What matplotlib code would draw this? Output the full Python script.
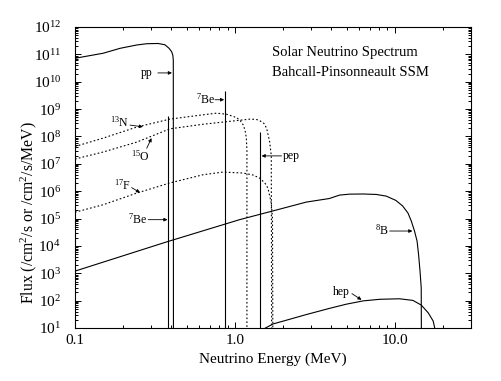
import math
import matplotlib
matplotlib.use('Agg')
import matplotlib.pyplot as plt
from matplotlib.ticker import LogLocator, FixedLocator, FixedFormatter, NullFormatter, FuncFormatter

plt.rcParams['font.family'] = ['Liberation Serif', 'DejaVu Serif']
plt.rcParams['mathtext.fontset'] = 'custom'
plt.rcParams['mathtext.rm'] = 'Liberation Serif'
plt.rcParams['mathtext.it'] = 'Liberation Serif:italic'

# continuum spectra (energy in MeV, flux per cm^2/s/MeV)
pp_e = [0.1, 0.150, 0.191, 0.243, 0.281, 0.331, 0.365, 0.388, 0.402, 0.409, 0.412, 0.413]
pp_f = [7.2e10, 1.1e11, 1.66e11, 2.2e11, 2.45e11, 2.5e11, 2.25e11, 1.66e11, 1.26e11, 9.5e10, 6.3e10, 1.0]

n13_e = [0.1, 0.15, 0.243, 0.392, 0.634, 0.768, 0.888, 1.025, 1.08, 1.13, 1.16, 1.18, 1.19, 1.19]
n13_f = [4.3e7, 8.7e7, 2.2e8, 4.3e8, 6.2e8, 7.1e8, 6.5e8, 4.9e8, 3.8e8, 2.6e8, 1.6e8, 8.7e7, 3e7, 1.0]

o15_e = [0.1, 0.15, 0.243, 0.392, 0.634, 1.025, 1.24, 1.36, 1.43, 1.52, 1.58, 1.65, 1.69, 1.70]
o15_f = [1.5e7, 2.7e7, 6.2e7, 1.9e8, 2.8e8, 3.8e8, 4.3e8, 4.2e8, 3.8e8, 3.0e8, 2.0e8, 6.5e7, 2e7, 1.0]

f17_e = [0.1, 0.15, 0.243, 0.392, 0.634, 0.844, 1.13, 1.30, 1.43, 1.54, 1.61, 1.69, 1.72, 1.73]
f17_f = [1.7e5, 3.2e5, 8.5e5, 2.0e6, 4.0e6, 5.0e6, 4.6e6, 3.9e6, 3.0e6, 2.0e6, 1.3e6, 3.7e5, 1e5, 1.0]

b8_e = [0.1, 0.374, 1.07, 1.73, 2.8, 3.9, 4.52, 5.23, 6.35, 7.67, 8.86, 10.17, 11.2, 12.1,
        12.7, 13.3, 13.8, 14.1, 14.4, 14.65, 14.7]
b8_f = [1.2e3, 1.4e4, 9.1e4, 1.9e5, 4.0e5, 5.4e5, 7.2e5, 7.8e5, 7.9e5, 7.6e5, 6.6e5, 4.6e5, 2.9e5, 1.6e5,
        8.1e4, 3.5e4, 1.5e4, 4.9e3, 1.2e3, 3.0e2, 1.0]

hep_e = [1.45, 1.73, 2.8, 3.9, 4.97, 6.35, 8.07, 10.7, 13.0, 14.65, 16.2, 17.4, 17.8, 18.0]
hep_f = [8, 14, 31, 52, 74, 98, 112, 117, 102, 69, 36, 18, 10, 6]

# line sources (per cm^2/s)
be7_e = [0.384, 0.862]
be7_f = [5.4e8, 4.6e9]
pep_e = [1.442]
pep_f = [1.5e8]

fig = plt.figure(figsize=(5.02, 3.81), dpi=100)
ax = fig.add_axes([0.1494, 0.1391, 0.7888, 0.79])

lw = 0.8
dots = (0, (1.5, 2.0))
ax.plot(pp_e, pp_f, color='k', lw=lw)
ax.plot(b8_e, b8_f, color='k', lw=lw)
ax.plot(hep_e, hep_f, color='k', lw=lw)
ax.plot(n13_e, n13_f, color='k', lw=lw, ls=dots)
ax.plot(o15_e, o15_f, color='k', lw=lw, ls=dots)
ax.plot(f17_e, f17_f, color='k', lw=lw, ls=dots)
ax.vlines(be7_e, 1.0, be7_f, color='k', lw=lw)
ax.vlines(pep_e, 1.0, pep_f, color='k', lw=lw)

ax.set_xscale('log')
ax.set_yscale('log')
ax.set_xlim(0.1, 30)
ax.set_ylim(10, 1e12)

ax.xaxis.set_major_locator(FixedLocator([0.1, 1.0, 10.0]))
ax.xaxis.set_major_formatter(FixedFormatter(['0.1', '1.0', '10.0']))
ax.xaxis.set_minor_locator(LogLocator(base=10, subs=range(2, 10)))
ax.xaxis.set_minor_formatter(NullFormatter())
ax.yaxis.set_major_locator(LogLocator(base=10, numticks=20))
ax.yaxis.set_major_formatter(FuncFormatter(lambda v, p: r'$10^{%d}$' % round(math.log10(v))))
ax.yaxis.set_minor_locator(LogLocator(base=10, subs=range(2, 10), numticks=20))
ax.yaxis.set_minor_formatter(NullFormatter())

ax.tick_params(which='both', direction='in', top=True, right=True, width=0.7)
ax.tick_params(which='major', length=4.5)
ax.tick_params(which='minor', length=2.5)
ax.tick_params(axis='x', labelsize=11, pad=4)
ax.tick_params(axis='y', labelsize=11, pad=10)
for s in ax.spines.values():
    s.set_linewidth(0.8)

ax.set_xlabel('Neutrino Energy (MeV)', fontsize=11)
ax.set_ylabel(r'Flux (/cm$^2$/s or /cm$^2$/s/MeV)', fontsize=11.3, va='center')
ax.yaxis.set_label_coords(-0.116, 0.385)

ax.text(0.497, 0.914, 'Solar Neutrino Spectrum', transform=ax.transAxes, fontsize=10.5, va='center')
ax.text(0.497, 0.85, 'Bahcall-Pinsonneault SSM', transform=ax.transAxes, fontsize=10.5, va='center')

arr = dict(arrowstyle='-|>', lw=0.6, color='k', mutation_scale=5, shrinkA=0, shrinkB=0)
fs = 8.5
# label, text position, arrow start, arrow tip
labels = [
    ('pp', (0.282, 2.1e10), (0.33, 2.1e10), (0.404, 2.1e10)),
    (r'$^7$Be', (0.657, 2.2e9), (0.751, 2.2e9), (0.857, 2.2e9)),
    (r'$^{13}$N', (0.191, 3.2e8), (0.221, 2.6e8), (0.266, 2.25e8)),
    (r'$^{15}$O', (0.255, 1.95e7), (0.281, 3.7e7), (0.301, 8.7e7)),
    (r'$^{17}$F', (0.197, 1.6e6), (0.226, 1.35e6), (0.255, 8.9e5)),
    (r'$^7$Be', (0.248, 9.1e4), (0.287, 9.1e4), (0.379, 9.1e4)),
    ('pep', (2.27, 1.95e7), (1.96, 1.95e7), (1.47, 1.95e7)),
    (r'$^8$B', (8.37, 3.6e4), (9.3, 3.5e4), (12.9, 3.5e4)),
    ('hep', (4.65, 2.1e2), (5.4, 1.8e2), (6.2, 1.07e2)),
]
for txt, tpos, a0, a1 in labels:
    ax.text(tpos[0], tpos[1], txt, fontsize=fs, ha='center', va='center')
    ax.annotate('', xy=a1, xytext=a0, arrowprops=arr)

fig.savefig('out.png', dpi=100)
